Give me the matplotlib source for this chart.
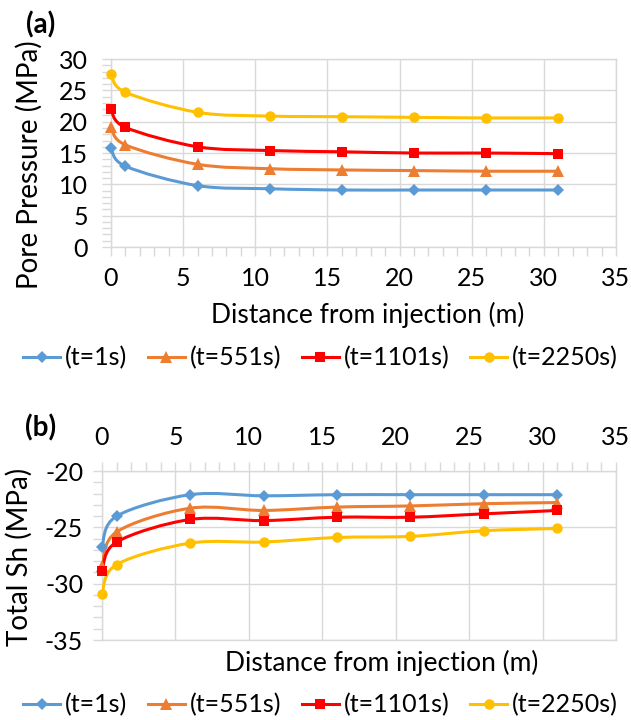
import numpy as np
import matplotlib
matplotlib.use("Agg")
import matplotlib.pyplot as plt
from matplotlib.path import Path
from matplotlib.patches import PathPatch
from matplotlib.lines import Line2D
from matplotlib.ticker import MultipleLocator

plt.rcParams["font.family"] = ["Lato", "DejaVu Sans"]
plt.rcParams["axes.unicode_minus"] = False

# data
distance = [0, 1, 6, 11, 16, 21, 26, 31]
labels = ["(t=1s)", "(t=551s)", "(t=1101s)", "(t=2250s)"]

pore_1s = [15.8, 12.9, 9.8, 9.3, 9.1, 9.1, 9.1, 9.1]
pore_551s = [19.2, 16.3, 13.2, 12.5, 12.3, 12.2, 12.1, 12.1]
pore_1101s = [22.0, 19.1, 16.0, 15.4, 15.2, 15.0, 15.0, 14.9]
pore_2250s = [27.6, 24.7, 21.5, 20.9, 20.8, 20.7, 20.6, 20.6]

sh_1s = [-26.7, -24.0, -22.1, -22.2, -22.1, -22.1, -22.1, -22.1]
sh_551s = [-28.4, -25.4, -23.3, -23.5, -23.2, -23.1, -22.9, -22.8]
sh_1101s = [-28.9, -26.3, -24.3, -24.4, -24.1, -24.1, -23.8, -23.5]
sh_2250s = [-30.9, -28.3, -26.4, -26.3, -25.9, -25.8, -25.3, -25.1]

colors = ["#5B9BD5", "#ED7D31", "#FF0000", "#FFC000"]
markers = ["D", "^", "s", "o"]
msizes = [6, 8, 7, 7.5]

GRID = "#D9D9D9"
FS_TICK = 18
FS_LAB = 19


def smooth_path(x, y):
    # excel-like smoothed line: catmull-rom as cubic bezier segments
    pts = np.column_stack([x, y]).astype(float)
    n = len(pts)
    verts = [pts[0]]
    codes = [Path.MOVETO]
    for i in range(n - 1):
        p0 = pts[i - 1] if i > 0 else pts[i]
        p1 = pts[i]
        p2 = pts[i + 1]
        p3 = pts[i + 2] if i + 2 < n else pts[i + 1]
        verts += [p1 + (p2 - p0) / 6, p2 - (p3 - p1) / 6, p2]
        codes += [Path.CURVE4] * 3
    return Path(verts, codes)


def style_axes(ax, ylo, yhi):
    ax.set_xlim(0, 35)
    ax.set_ylim(ylo, yhi)
    ax.xaxis.set_major_locator(MultipleLocator(5))
    ax.xaxis.set_minor_locator(MultipleLocator(1))
    ax.yaxis.set_major_locator(MultipleLocator(5))
    ax.yaxis.set_minor_locator(MultipleLocator(1))
    ax.grid(True, which="major", color=GRID, lw=1.0)
    ax.set_axisbelow(True)
    for s in ax.spines.values():
        s.set_color(GRID)
        s.set_linewidth(1.0)
    ax.tick_params(which="both", direction="out", length=6.5, width=1.0,
                   color=GRID, labelsize=FS_TICK, labelcolor="black")


fig = plt.figure(figsize=(6.31, 7.2), dpi=100)
ax_a = fig.add_axes([0.1759, 0.6569, 0.8003, 0.2611])
ax_b = fig.add_axes([0.1616, 0.1111, 0.8146, 0.2347])

style_axes(ax_a, 0, 30)
ax_a.tick_params(axis="x", which="major", pad=8)
ax_a.tick_params(axis="y", which="major", pad=10)

style_axes(ax_b, -35, -20)
ax_b.xaxis.tick_top()
ax_b.tick_params(axis="x", which="major", pad=9)
ax_b.tick_params(axis="y", which="major", pad=7)

series_a = [pore_1s, pore_551s, pore_1101s, pore_2250s]
series_b = [sh_1s, sh_551s, sh_1101s, sh_2250s]

for ax, series in [(ax_a, series_a), (ax_b, series_b)]:
    for vals, c, m, ms in zip(series, colors, markers, msizes):
        ax.add_patch(PathPatch(smooth_path(distance, vals), fill=False,
                               edgecolor=c, lw=2.2, capstyle="round", zorder=3))
        ax.plot(distance, vals, linestyle="none", marker=m, ms=ms, color=c,
                markeredgewidth=0, zorder=4, clip_on=False)

fig.text(0.065, 0.965, "(a)", fontsize=20, fontweight="bold", ha="center", va="center")
fig.text(0.065, 0.4056, "(b)", fontsize=20, fontweight="bold", ha="center", va="center")
fig.text(0.046, 0.771, "Pore Pressure (MPa)", fontsize=20, rotation=90,
         ha="center", va="center")
fig.text(0.030, 0.226, "Total Sh (MPa)", fontsize=20, rotation=90,
         ha="center", va="center")
fig.text(0.582, 0.5625, "Distance from injection (m)", fontsize=FS_LAB,
         ha="center", va="center")
fig.text(0.605, 0.079, "Distance from injection (m)", fontsize=FS_LAB,
         ha="center", va="center")

handles = [Line2D([], [], color=c, lw=2.2, marker=m, ms=ms, markeredgewidth=0)
           for c, m, ms in zip(colors, markers, msizes)]
for yc in [0.503, 0.021]:
    fig.legend(handles, labels, loc="center", bbox_to_anchor=(0.508, yc),
               ncol=4, frameon=False, fontsize=18, handlelength=1.5,
               handletextpad=0.2, columnspacing=0.8, borderpad=0,
               borderaxespad=0)

fig.savefig("out.png", dpi=100)
